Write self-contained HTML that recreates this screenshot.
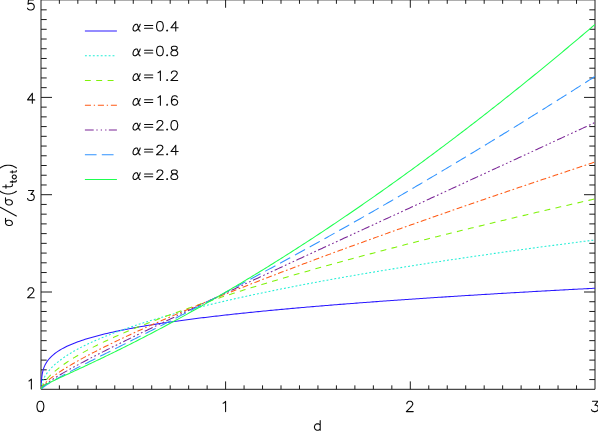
<!DOCTYPE html>
<html><head><meta charset="utf-8"><title>plot</title>
<style>html,body{margin:0;padding:0;background:#fff;font-family:"Liberation Sans",sans-serif}svg{display:block}.t{fill:none;stroke:#0a0a0a;stroke-width:1.1;stroke-linecap:round;stroke-linejoin:round}</style></head>
<body><svg width="598" height="432" viewBox="0 0 598 432"><rect width="598" height="432" fill="#fff"/><path d="M41.00,-0.15 H595.00 V389.30 H41.00 Z M59.37,389.30 v-3.95 M59.37,-0.15 v3.95 M77.84,389.30 v-3.95 M77.84,-0.15 v3.95 M96.31,389.30 v-3.95 M96.31,-0.15 v3.95 M114.78,389.30 v-3.95 M114.78,-0.15 v3.95 M133.25,389.30 v-3.95 M133.25,-0.15 v3.95 M151.72,389.30 v-3.95 M151.72,-0.15 v3.95 M170.19,389.30 v-3.95 M170.19,-0.15 v3.95 M188.66,389.30 v-3.95 M188.66,-0.15 v3.95 M207.13,389.30 v-3.95 M207.13,-0.15 v3.95 M225.60,389.30 v-7.9 M225.60,-0.15 v7.9 M244.07,389.30 v-3.95 M244.07,-0.15 v3.95 M262.54,389.30 v-3.95 M262.54,-0.15 v3.95 M281.01,389.30 v-3.95 M281.01,-0.15 v3.95 M299.48,389.30 v-3.95 M299.48,-0.15 v3.95 M317.95,389.30 v-3.95 M317.95,-0.15 v3.95 M336.42,389.30 v-3.95 M336.42,-0.15 v3.95 M354.89,389.30 v-3.95 M354.89,-0.15 v3.95 M373.36,389.30 v-3.95 M373.36,-0.15 v3.95 M391.83,389.30 v-3.95 M391.83,-0.15 v3.95 M410.30,389.30 v-7.9 M410.30,-0.15 v7.9 M428.77,389.30 v-3.95 M428.77,-0.15 v3.95 M447.24,389.30 v-3.95 M447.24,-0.15 v3.95 M465.71,389.30 v-3.95 M465.71,-0.15 v3.95 M484.18,389.30 v-3.95 M484.18,-0.15 v3.95 M502.65,389.30 v-3.95 M502.65,-0.15 v3.95 M521.12,389.30 v-3.95 M521.12,-0.15 v3.95 M539.59,389.30 v-3.95 M539.59,-0.15 v3.95 M558.06,389.30 v-3.95 M558.06,-0.15 v3.95 M576.53,389.30 v-3.95 M576.53,-0.15 v3.95 M41.00,379.57 h5.7 M595.00,379.57 h-5.7 M41.00,369.84 h5.7 M595.00,369.84 h-5.7 M41.00,360.11 h5.7 M595.00,360.11 h-5.7 M41.00,350.38 h5.7 M595.00,350.38 h-5.7 M41.00,340.65 h5.7 M595.00,340.65 h-5.7 M41.00,330.92 h5.7 M595.00,330.92 h-5.7 M41.00,321.19 h5.7 M595.00,321.19 h-5.7 M41.00,311.46 h5.7 M595.00,311.46 h-5.7 M41.00,301.73 h5.7 M595.00,301.73 h-5.7 M41.00,292.00 h11.0 M595.00,292.00 h-11.0 M41.00,282.27 h5.7 M595.00,282.27 h-5.7 M41.00,272.54 h5.7 M595.00,272.54 h-5.7 M41.00,262.81 h5.7 M595.00,262.81 h-5.7 M41.00,253.08 h5.7 M595.00,253.08 h-5.7 M41.00,243.35 h5.7 M595.00,243.35 h-5.7 M41.00,233.62 h5.7 M595.00,233.62 h-5.7 M41.00,223.89 h5.7 M595.00,223.89 h-5.7 M41.00,214.16 h5.7 M595.00,214.16 h-5.7 M41.00,204.43 h5.7 M595.00,204.43 h-5.7 M41.00,194.70 h11.0 M595.00,194.70 h-11.0 M41.00,184.97 h5.7 M595.00,184.97 h-5.7 M41.00,175.24 h5.7 M595.00,175.24 h-5.7 M41.00,165.51 h5.7 M595.00,165.51 h-5.7 M41.00,155.78 h5.7 M595.00,155.78 h-5.7 M41.00,146.05 h5.7 M595.00,146.05 h-5.7 M41.00,136.32 h5.7 M595.00,136.32 h-5.7 M41.00,126.59 h5.7 M595.00,126.59 h-5.7 M41.00,116.86 h5.7 M595.00,116.86 h-5.7 M41.00,107.13 h5.7 M595.00,107.13 h-5.7 M41.00,97.40 h11.0 M595.00,97.40 h-11.0 M41.00,87.67 h5.7 M595.00,87.67 h-5.7 M41.00,77.94 h5.7 M595.00,77.94 h-5.7 M41.00,68.21 h5.7 M595.00,68.21 h-5.7 M41.00,58.48 h5.7 M595.00,58.48 h-5.7 M41.00,48.75 h5.7 M595.00,48.75 h-5.7 M41.00,39.02 h5.7 M595.00,39.02 h-5.7 M41.00,29.29 h5.7 M595.00,29.29 h-5.7 M41.00,19.56 h5.7 M595.00,19.56 h-5.7 M41.00,9.83 h5.7 M595.00,9.83 h-5.7" fill="none" stroke="#1c1c1c" stroke-width="1.0" stroke-linecap="butt"/><clipPath id="c"><rect x="41.00" y="0" width="554.00" height="389.30"/></clipPath><g clip-path="url(#c)" fill="none" stroke-linejoin="round"><path d="M41.10,389.40 L41.32,385.87 L41.32,385.73 L41.32,385.58 L41.33,385.42 L41.33,385.26 L41.33,385.10 L41.33,384.92 L41.34,384.74 L41.34,384.55 L41.35,384.36 L41.35,384.16 L41.36,383.94 L41.37,383.72 L41.37,383.50 L41.38,383.26 L41.39,383.01 L41.40,382.75 L41.41,382.49 L41.42,382.21 L41.44,381.92 L41.45,381.62 L41.47,381.30 L41.49,380.98 L41.51,380.64 L41.53,380.29 L41.56,379.92 L41.59,379.54 L41.62,379.14 L41.65,378.73 L41.69,378.30 L41.74,377.86 L41.78,377.39 L41.84,376.91 L41.90,376.41 L41.96,375.89 L42.04,375.35 L42.12,374.79 L42.21,374.22 L42.31,373.64 L42.42,373.04 L42.55,372.42 L42.69,371.79 L42.84,371.15 L43.01,370.48 L43.20,369.80 L43.41,369.11 L43.65,368.39 L43.91,367.66 L44.20,366.92 L44.52,366.15 L44.88,365.36 L45.27,364.56 L45.72,363.73 L46.21,362.89 L46.75,362.02 L47.36,361.13 L48.03,360.22 L48.78,359.28 L49.61,358.32 L50.53,357.33 L52.35,355.58 L54.17,354.04 L55.99,352.66 L57.82,351.39 L59.64,350.24 L61.46,349.16 L63.28,348.16 L65.10,347.22 L66.92,346.33 L68.74,345.48 L70.56,344.68 L72.39,343.92 L74.21,343.19 L76.03,342.49 L77.85,341.81 L79.67,341.16 L81.49,340.53 L83.31,339.93 L85.13,339.34 L86.96,338.77 L88.78,338.22 L90.60,337.68 L92.42,337.16 L94.24,336.65 L96.06,336.16 L97.88,335.68 L99.71,335.20 L101.53,334.74 L103.35,334.29 L105.17,333.85 L106.99,333.42 L108.81,332.99 L110.63,332.58 L112.45,332.17 L114.28,331.77 L116.10,331.38 L117.92,330.99 L119.74,330.62 L121.56,330.24 L123.38,329.88 L125.20,329.52 L127.02,329.16 L128.85,328.81 L130.67,328.47 L132.49,328.13 L134.31,327.80 L136.13,327.47 L137.95,327.14 L139.77,326.82 L141.60,326.51 L143.42,326.19 L145.24,325.89 L147.06,325.58 L148.88,325.28 L150.70,324.99 L152.52,324.69 L154.34,324.40 L156.17,324.12 L157.99,323.84 L159.81,323.56 L161.63,323.28 L163.45,323.01 L165.27,322.73 L167.09,322.47 L168.91,322.20 L170.74,321.94 L172.56,321.68 L174.38,321.42 L176.20,321.17 L178.02,320.92 L179.84,320.67 L181.66,320.42 L183.49,320.17 L185.31,319.93 L187.13,319.69 L188.95,319.45 L190.77,319.22 L192.59,318.98 L194.41,318.75 L196.23,318.52 L198.06,318.29 L199.88,318.06 L201.70,317.84 L203.52,317.62 L205.34,317.40 L207.16,317.18 L208.98,316.96 L210.80,316.74 L212.63,316.53 L214.45,316.32 L216.27,316.11 L218.09,315.90 L219.91,315.69 L221.73,315.48 L223.55,315.28 L225.38,315.07 L227.20,314.87 L229.02,314.67 L230.84,314.47 L232.66,314.27 L234.48,314.08 L236.30,313.88 L238.12,313.69 L239.95,313.49 L241.77,313.30 L243.59,313.11 L245.41,312.92 L247.23,312.74 L249.05,312.55 L250.87,312.36 L252.69,312.18 L254.52,311.99 L256.34,311.81 L258.16,311.63 L259.98,311.45 L261.80,311.27 L263.62,311.09 L265.44,310.92 L267.27,310.74 L269.09,310.57 L270.91,310.39 L272.73,310.22 L274.55,310.05 L276.37,309.88 L278.19,309.71 L280.01,309.54 L281.84,309.37 L283.66,309.20 L285.48,309.03 L287.30,308.87 L289.12,308.70 L290.94,308.54 L292.76,308.38 L294.58,308.21 L296.41,308.05 L298.23,307.89 L300.05,307.73 L301.87,307.57 L303.69,307.41 L305.51,307.26 L307.33,307.10 L309.16,306.94 L310.98,306.79 L312.80,306.63 L314.62,306.48 L316.44,306.33 L318.26,306.17 L320.08,306.02 L321.90,305.87 L323.73,305.72 L325.55,305.57 L327.37,305.42 L329.19,305.27 L331.01,305.12 L332.83,304.98 L334.65,304.83 L336.47,304.68 L338.30,304.54 L340.12,304.39 L341.94,304.25 L343.76,304.11 L345.58,303.96 L347.40,303.82 L349.22,303.68 L351.05,303.54 L352.87,303.40 L354.69,303.26 L356.51,303.12 L358.33,302.98 L360.15,302.84 L361.97,302.70 L363.79,302.57 L365.62,302.43 L367.44,302.29 L369.26,302.16 L371.08,302.02 L372.90,301.89 L374.72,301.75 L376.54,301.62 L378.36,301.49 L380.19,301.35 L382.01,301.22 L383.83,301.09 L385.65,300.96 L387.47,300.83 L389.29,300.70 L391.11,300.57 L392.94,300.44 L394.76,300.31 L396.58,300.18 L398.40,300.05 L400.22,299.93 L402.04,299.80 L403.86,299.67 L405.68,299.55 L407.51,299.42 L409.33,299.29 L411.15,299.17 L412.97,299.04 L414.79,298.92 L416.61,298.80 L418.43,298.67 L420.25,298.55 L422.08,298.43 L423.90,298.31 L425.72,298.18 L427.54,298.06 L429.36,297.94 L431.18,297.82 L433.00,297.70 L434.83,297.58 L436.65,297.46 L438.47,297.34 L440.29,297.22 L442.11,297.11 L443.93,296.99 L445.75,296.87 L447.57,296.75 L449.40,296.64 L451.22,296.52 L453.04,296.40 L454.86,296.29 L456.68,296.17 L458.50,296.06 L460.32,295.94 L462.14,295.83 L463.97,295.71 L465.79,295.60 L467.61,295.49 L469.43,295.37 L471.25,295.26 L473.07,295.15 L474.89,295.03 L476.72,294.92 L478.54,294.81 L480.36,294.70 L482.18,294.59 L484.00,294.48 L485.82,294.37 L487.64,294.26 L489.46,294.15 L491.29,294.04 L493.11,293.93 L494.93,293.82 L496.75,293.71 L498.57,293.60 L500.39,293.50 L502.21,293.39 L504.03,293.28 L505.86,293.17 L507.68,293.07 L509.50,292.96 L511.32,292.85 L513.14,292.75 L514.96,292.64 L516.78,292.54 L518.61,292.43 L520.43,292.33 L522.25,292.22 L524.07,292.12 L525.89,292.01 L527.71,291.91 L529.53,291.81 L531.35,291.70 L533.18,291.60 L535.00,291.50 L536.82,291.39 L538.64,291.29 L540.46,291.19 L542.28,291.09 L544.10,290.99 L545.92,290.88 L547.75,290.78 L549.57,290.68 L551.39,290.58 L553.21,290.48 L555.03,290.38 L556.85,290.28 L558.67,290.18 L560.50,290.08 L562.32,289.98 L564.14,289.88 L565.96,289.78 L567.78,289.69 L569.60,289.59 L571.42,289.49 L573.24,289.39 L575.07,289.29 L576.89,289.20 L578.71,289.10 L580.53,289.00 L582.35,288.91 L584.17,288.81 L585.99,288.71 L587.81,288.62 L589.64,288.52 L591.46,288.42 L593.28,288.33 L595.10,288.23" stroke="#2a18ff" stroke-width="1.05"/><path d="M41.10,389.40 L41.32,388.21 L41.32,388.15 L41.32,388.09 L41.33,388.03 L41.33,387.96 L41.33,387.89 L41.33,387.82 L41.34,387.74 L41.34,387.66 L41.35,387.57 L41.35,387.48 L41.36,387.39 L41.37,387.29 L41.37,387.18 L41.38,387.08 L41.39,386.96 L41.40,386.84 L41.41,386.72 L41.42,386.58 L41.44,386.45 L41.45,386.30 L41.47,386.15 L41.49,385.99 L41.51,385.83 L41.53,385.65 L41.56,385.47 L41.59,385.28 L41.62,385.07 L41.65,384.86 L41.69,384.64 L41.74,384.41 L41.78,384.17 L41.84,383.91 L41.90,383.65 L41.96,383.37 L42.04,383.07 L42.12,382.76 L42.21,382.44 L42.31,382.10 L42.42,381.74 L42.55,381.36 L42.69,380.97 L42.84,380.55 L43.01,380.11 L43.20,379.65 L43.41,379.16 L43.65,378.65 L43.91,378.11 L44.20,377.54 L44.52,376.94 L44.88,376.31 L45.27,375.64 L45.72,374.94 L46.21,374.20 L46.75,373.41 L47.36,372.59 L48.03,371.71 L48.78,370.79 L49.61,369.82 L50.53,368.80 L52.35,366.91 L54.17,365.18 L55.99,363.56 L57.82,362.04 L59.64,360.60 L61.46,359.24 L63.28,357.93 L65.10,356.68 L66.92,355.48 L68.74,354.32 L70.56,353.20 L72.39,352.11 L74.21,351.06 L76.03,350.04 L77.85,349.04 L79.67,348.07 L81.49,347.12 L83.31,346.20 L85.13,345.29 L86.96,344.41 L88.78,343.54 L90.60,342.69 L92.42,341.86 L94.24,341.04 L96.06,340.24 L97.88,339.45 L99.71,338.67 L101.53,337.90 L103.35,337.15 L105.17,336.41 L106.99,335.68 L108.81,334.96 L110.63,334.25 L112.45,333.55 L114.28,332.86 L116.10,332.18 L117.92,331.50 L119.74,330.84 L121.56,330.18 L123.38,329.53 L125.20,328.89 L127.02,328.26 L128.85,327.63 L130.67,327.01 L132.49,326.40 L134.31,325.79 L136.13,325.19 L137.95,324.59 L139.77,324.00 L141.60,323.42 L143.42,322.84 L145.24,322.27 L147.06,321.70 L148.88,321.14 L150.70,320.58 L152.52,320.03 L154.34,319.48 L156.17,318.94 L157.99,318.40 L159.81,317.87 L161.63,317.34 L163.45,316.81 L165.27,316.29 L167.09,315.77 L168.91,315.26 L170.74,314.75 L172.56,314.25 L174.38,313.74 L176.20,313.25 L178.02,312.75 L179.84,312.26 L181.66,311.77 L183.49,311.29 L185.31,310.81 L187.13,310.33 L188.95,309.85 L190.77,309.38 L192.59,308.91 L194.41,308.45 L196.23,307.98 L198.06,307.53 L199.88,307.07 L201.70,306.61 L203.52,306.16 L205.34,305.71 L207.16,305.27 L208.98,304.82 L210.80,304.38 L212.63,303.95 L214.45,303.51 L216.27,303.08 L218.09,302.64 L219.91,302.22 L221.73,301.79 L223.55,301.37 L225.38,300.94 L227.20,300.52 L229.02,300.11 L230.84,299.69 L232.66,299.28 L234.48,298.87 L236.30,298.46 L238.12,298.05 L239.95,297.65 L241.77,297.24 L243.59,296.84 L245.41,296.44 L247.23,296.05 L249.05,295.65 L250.87,295.26 L252.69,294.87 L254.52,294.48 L256.34,294.09 L258.16,293.70 L259.98,293.32 L261.80,292.94 L263.62,292.56 L265.44,292.18 L267.27,291.80 L269.09,291.42 L270.91,291.05 L272.73,290.68 L274.55,290.30 L276.37,289.93 L278.19,289.57 L280.01,289.20 L281.84,288.83 L283.66,288.47 L285.48,288.11 L287.30,287.75 L289.12,287.39 L290.94,287.03 L292.76,286.67 L294.58,286.32 L296.41,285.97 L298.23,285.61 L300.05,285.26 L301.87,284.91 L303.69,284.56 L305.51,284.22 L307.33,283.87 L309.16,283.53 L310.98,283.18 L312.80,282.84 L314.62,282.50 L316.44,282.16 L318.26,281.82 L320.08,281.48 L321.90,281.15 L323.73,280.81 L325.55,280.48 L327.37,280.15 L329.19,279.82 L331.01,279.49 L332.83,279.16 L334.65,278.83 L336.47,278.50 L338.30,278.18 L340.12,277.85 L341.94,277.53 L343.76,277.21 L345.58,276.88 L347.40,276.56 L349.22,276.24 L351.05,275.93 L352.87,275.61 L354.69,275.29 L356.51,274.98 L358.33,274.66 L360.15,274.35 L361.97,274.04 L363.79,273.72 L365.62,273.41 L367.44,273.10 L369.26,272.79 L371.08,272.49 L372.90,272.18 L374.72,271.87 L376.54,271.57 L378.36,271.26 L380.19,270.96 L382.01,270.66 L383.83,270.36 L385.65,270.06 L387.47,269.76 L389.29,269.46 L391.11,269.16 L392.94,268.86 L394.76,268.57 L396.58,268.27 L398.40,267.98 L400.22,267.68 L402.04,267.39 L403.86,267.10 L405.68,266.80 L407.51,266.51 L409.33,266.22 L411.15,265.93 L412.97,265.65 L414.79,265.36 L416.61,265.07 L418.43,264.78 L420.25,264.50 L422.08,264.21 L423.90,263.93 L425.72,263.65 L427.54,263.36 L429.36,263.08 L431.18,262.80 L433.00,262.52 L434.83,262.24 L436.65,261.96 L438.47,261.68 L440.29,261.41 L442.11,261.13 L443.93,260.85 L445.75,260.58 L447.57,260.30 L449.40,260.03 L451.22,259.76 L453.04,259.48 L454.86,259.21 L456.68,258.94 L458.50,258.67 L460.32,258.40 L462.14,258.13 L463.97,257.86 L465.79,257.59 L467.61,257.32 L469.43,257.06 L471.25,256.79 L473.07,256.52 L474.89,256.26 L476.72,255.99 L478.54,255.73 L480.36,255.47 L482.18,255.20 L484.00,254.94 L485.82,254.68 L487.64,254.42 L489.46,254.16 L491.29,253.90 L493.11,253.64 L494.93,253.38 L496.75,253.12 L498.57,252.86 L500.39,252.60 L502.21,252.35 L504.03,252.09 L505.86,251.84 L507.68,251.58 L509.50,251.33 L511.32,251.07 L513.14,250.82 L514.96,250.57 L516.78,250.31 L518.61,250.06 L520.43,249.81 L522.25,249.56 L524.07,249.31 L525.89,249.06 L527.71,248.81 L529.53,248.56 L531.35,248.31 L533.18,248.07 L535.00,247.82 L536.82,247.57 L538.64,247.33 L540.46,247.08 L542.28,246.84 L544.10,246.59 L545.92,246.35 L547.75,246.10 L549.57,245.86 L551.39,245.62 L553.21,245.37 L555.03,245.13 L556.85,244.89 L558.67,244.65 L560.50,244.41 L562.32,244.17 L564.14,243.93 L565.96,243.69 L567.78,243.45 L569.60,243.21 L571.42,242.98 L573.24,242.74 L575.07,242.50 L576.89,242.27 L578.71,242.03 L580.53,241.79 L582.35,241.56 L584.17,241.32 L585.99,241.09 L587.81,240.86 L589.64,240.62 L591.46,240.39 L593.28,240.16 L595.10,239.92" stroke="#22eed6" stroke-width="1.05" stroke-dasharray="1.907 2.033" stroke-dashoffset="-0.65"/><path d="M41.10,389.40 L41.32,389.18 L41.32,389.16 L41.32,389.14 L41.33,389.12 L41.33,389.10 L41.33,389.08 L41.33,389.06 L41.34,389.03 L41.34,389.01 L41.35,388.98 L41.35,388.95 L41.36,388.91 L41.37,388.88 L41.37,388.84 L41.38,388.80 L41.39,388.75 L41.40,388.70 L41.41,388.65 L41.42,388.60 L41.44,388.54 L41.45,388.48 L41.47,388.41 L41.49,388.34 L41.51,388.26 L41.53,388.18 L41.56,388.09 L41.59,387.99 L41.62,387.89 L41.65,387.77 L41.69,387.66 L41.74,387.53 L41.78,387.39 L41.84,387.24 L41.90,387.09 L41.96,386.92 L42.04,386.73 L42.12,386.54 L42.21,386.33 L42.31,386.10 L42.42,385.86 L42.55,385.60 L42.69,385.32 L42.84,385.02 L43.01,384.70 L43.20,384.36 L43.41,383.99 L43.65,383.59 L43.91,383.17 L44.20,382.72 L44.52,382.24 L44.88,381.73 L45.27,381.18 L45.72,380.60 L46.21,379.97 L46.75,379.31 L47.36,378.59 L48.03,377.83 L48.78,377.01 L49.61,376.14 L50.53,375.21 L52.35,373.47 L54.17,371.84 L55.99,370.29 L57.82,368.81 L59.64,367.40 L61.46,366.04 L63.28,364.73 L65.10,363.46 L66.92,362.23 L68.74,361.03 L70.56,359.86 L72.39,358.72 L74.21,357.61 L76.03,356.51 L77.85,355.45 L79.67,354.40 L81.49,353.37 L83.31,352.35 L85.13,351.36 L86.96,350.38 L88.78,349.41 L90.60,348.46 L92.42,347.53 L94.24,346.60 L96.06,345.69 L97.88,344.78 L99.71,343.89 L101.53,343.01 L103.35,342.14 L105.17,341.28 L106.99,340.43 L108.81,339.59 L110.63,338.75 L112.45,337.92 L114.28,337.10 L116.10,336.29 L117.92,335.49 L119.74,334.69 L121.56,333.90 L123.38,333.12 L125.20,332.34 L127.02,331.57 L128.85,330.80 L130.67,330.04 L132.49,329.29 L134.31,328.54 L136.13,327.80 L137.95,327.06 L139.77,326.33 L141.60,325.60 L143.42,324.87 L145.24,324.15 L147.06,323.44 L148.88,322.73 L150.70,322.03 L152.52,321.32 L154.34,320.63 L156.17,319.93 L157.99,319.24 L159.81,318.56 L161.63,317.88 L163.45,317.20 L165.27,316.52 L167.09,315.85 L168.91,315.19 L170.74,314.52 L172.56,313.86 L174.38,313.20 L176.20,312.55 L178.02,311.90 L179.84,311.25 L181.66,310.60 L183.49,309.96 L185.31,309.32 L187.13,308.68 L188.95,308.05 L190.77,307.42 L192.59,306.79 L194.41,306.16 L196.23,305.54 L198.06,304.92 L199.88,304.30 L201.70,303.68 L203.52,303.07 L205.34,302.46 L207.16,301.85 L208.98,301.24 L210.80,300.64 L212.63,300.04 L214.45,299.44 L216.27,298.84 L218.09,298.24 L219.91,297.65 L221.73,297.06 L223.55,296.47 L225.38,295.88 L227.20,295.30 L229.02,294.71 L230.84,294.13 L232.66,293.55 L234.48,292.97 L236.30,292.40 L238.12,291.82 L239.95,291.25 L241.77,290.68 L243.59,290.11 L245.41,289.55 L247.23,288.98 L249.05,288.42 L250.87,287.85 L252.69,287.29 L254.52,286.74 L256.34,286.18 L258.16,285.62 L259.98,285.07 L261.80,284.52 L263.62,283.96 L265.44,283.41 L267.27,282.87 L269.09,282.32 L270.91,281.77 L272.73,281.23 L274.55,280.69 L276.37,280.15 L278.19,279.61 L280.01,279.07 L281.84,278.53 L283.66,278.00 L285.48,277.46 L287.30,276.93 L289.12,276.40 L290.94,275.87 L292.76,275.34 L294.58,274.81 L296.41,274.28 L298.23,273.76 L300.05,273.24 L301.87,272.71 L303.69,272.19 L305.51,271.67 L307.33,271.15 L309.16,270.63 L310.98,270.12 L312.80,269.60 L314.62,269.08 L316.44,268.57 L318.26,268.06 L320.08,267.55 L321.90,267.04 L323.73,266.53 L325.55,266.02 L327.37,265.51 L329.19,265.00 L331.01,264.50 L332.83,263.99 L334.65,263.49 L336.47,262.99 L338.30,262.49 L340.12,261.99 L341.94,261.49 L343.76,260.99 L345.58,260.49 L347.40,260.00 L349.22,259.50 L351.05,259.01 L352.87,258.51 L354.69,258.02 L356.51,257.53 L358.33,257.04 L360.15,256.55 L361.97,256.06 L363.79,255.57 L365.62,255.08 L367.44,254.60 L369.26,254.11 L371.08,253.62 L372.90,253.14 L374.72,252.66 L376.54,252.18 L378.36,251.69 L380.19,251.21 L382.01,250.73 L383.83,250.25 L385.65,249.78 L387.47,249.30 L389.29,248.82 L391.11,248.35 L392.94,247.87 L394.76,247.40 L396.58,246.92 L398.40,246.45 L400.22,245.98 L402.04,245.51 L403.86,245.03 L405.68,244.56 L407.51,244.10 L409.33,243.63 L411.15,243.16 L412.97,242.69 L414.79,242.23 L416.61,241.76 L418.43,241.29 L420.25,240.83 L422.08,240.37 L423.90,239.90 L425.72,239.44 L427.54,238.98 L429.36,238.52 L431.18,238.06 L433.00,237.60 L434.83,237.14 L436.65,236.68 L438.47,236.22 L440.29,235.77 L442.11,235.31 L443.93,234.86 L445.75,234.40 L447.57,233.95 L449.40,233.49 L451.22,233.04 L453.04,232.59 L454.86,232.13 L456.68,231.68 L458.50,231.23 L460.32,230.78 L462.14,230.33 L463.97,229.88 L465.79,229.43 L467.61,228.99 L469.43,228.54 L471.25,228.09 L473.07,227.65 L474.89,227.20 L476.72,226.75 L478.54,226.31 L480.36,225.87 L482.18,225.42 L484.00,224.98 L485.82,224.54 L487.64,224.10 L489.46,223.65 L491.29,223.21 L493.11,222.77 L494.93,222.33 L496.75,221.89 L498.57,221.46 L500.39,221.02 L502.21,220.58 L504.03,220.14 L505.86,219.71 L507.68,219.27 L509.50,218.83 L511.32,218.40 L513.14,217.97 L514.96,217.53 L516.78,217.10 L518.61,216.66 L520.43,216.23 L522.25,215.80 L524.07,215.37 L525.89,214.94 L527.71,214.51 L529.53,214.08 L531.35,213.65 L533.18,213.22 L535.00,212.79 L536.82,212.36 L538.64,211.93 L540.46,211.50 L542.28,211.08 L544.10,210.65 L545.92,210.23 L547.75,209.80 L549.57,209.37 L551.39,208.95 L553.21,208.53 L555.03,208.10 L556.85,207.68 L558.67,207.26 L560.50,206.83 L562.32,206.41 L564.14,205.99 L565.96,205.57 L567.78,205.15 L569.60,204.73 L571.42,204.31 L573.24,203.89 L575.07,203.47 L576.89,203.05 L578.71,202.63 L580.53,202.21 L582.35,201.80 L584.17,201.38 L585.99,200.96 L587.81,200.55 L589.64,200.13 L591.46,199.71 L593.28,199.30 L595.10,198.88" stroke="#7ff20a" stroke-width="1.05" stroke-dasharray="5.929 5.329" stroke-dashoffset="-0.45999999999999996"/><path d="M41.10,389.40 L41.32,389.15 L41.32,389.14 L41.32,389.12 L41.33,389.10 L41.33,389.08 L41.33,389.06 L41.33,389.04 L41.34,389.02 L41.34,388.99 L41.35,388.96 L41.35,388.93 L41.36,388.90 L41.37,388.87 L41.37,388.84 L41.38,388.80 L41.39,388.76 L41.40,388.72 L41.41,388.67 L41.42,388.62 L41.44,388.57 L41.45,388.52 L41.47,388.46 L41.49,388.40 L41.51,388.33 L41.53,388.26 L41.56,388.19 L41.59,388.11 L41.62,388.02 L41.65,387.93 L41.69,387.83 L41.74,387.73 L41.78,387.62 L41.84,387.51 L41.90,387.38 L41.96,387.25 L42.04,387.11 L42.12,386.96 L42.21,386.80 L42.31,386.63 L42.42,386.45 L42.55,386.25 L42.69,386.05 L42.84,385.82 L43.01,385.59 L43.20,385.34 L43.41,385.07 L43.65,384.78 L43.91,384.47 L44.20,384.15 L44.52,383.80 L44.88,383.42 L45.27,383.02 L45.72,382.59 L46.21,382.13 L46.75,381.63 L47.36,381.09 L48.03,380.51 L48.78,379.88 L49.61,379.20 L50.53,378.46 L52.35,377.06 L54.17,375.71 L55.99,374.41 L57.82,373.15 L59.64,371.93 L61.46,370.73 L63.28,369.56 L65.10,368.42 L66.92,367.29 L68.74,366.19 L70.56,365.10 L72.39,364.03 L74.21,362.98 L76.03,361.94 L77.85,360.91 L79.67,359.89 L81.49,358.88 L83.31,357.89 L85.13,356.90 L86.96,355.93 L88.78,354.96 L90.60,354.00 L92.42,353.05 L94.24,352.10 L96.06,351.17 L97.88,350.24 L99.71,349.32 L101.53,348.40 L103.35,347.49 L105.17,346.58 L106.99,345.68 L108.81,344.79 L110.63,343.90 L112.45,343.02 L114.28,342.14 L116.10,341.27 L117.92,340.40 L119.74,339.53 L121.56,338.67 L123.38,337.81 L125.20,336.96 L127.02,336.11 L128.85,335.27 L130.67,334.42 L132.49,333.59 L134.31,332.75 L136.13,331.92 L137.95,331.09 L139.77,330.27 L141.60,329.45 L143.42,328.63 L145.24,327.81 L147.06,327.00 L148.88,326.19 L150.70,325.38 L152.52,324.58 L154.34,323.78 L156.17,322.98 L157.99,322.18 L159.81,321.39 L161.63,320.59 L163.45,319.80 L165.27,319.02 L167.09,318.23 L168.91,317.45 L170.74,316.67 L172.56,315.89 L174.38,315.12 L176.20,314.34 L178.02,313.57 L179.84,312.80 L181.66,312.03 L183.49,311.27 L185.31,310.50 L187.13,309.74 L188.95,308.98 L190.77,308.22 L192.59,307.46 L194.41,306.71 L196.23,305.96 L198.06,305.20 L199.88,304.45 L201.70,303.71 L203.52,302.96 L205.34,302.21 L207.16,301.47 L208.98,300.73 L210.80,299.99 L212.63,299.25 L214.45,298.51 L216.27,297.78 L218.09,297.04 L219.91,296.31 L221.73,295.58 L223.55,294.85 L225.38,294.12 L227.20,293.39 L229.02,292.66 L230.84,291.94 L232.66,291.21 L234.48,290.49 L236.30,289.77 L238.12,289.05 L239.95,288.33 L241.77,287.62 L243.59,286.90 L245.41,286.18 L247.23,285.47 L249.05,284.76 L250.87,284.05 L252.69,283.33 L254.52,282.63 L256.34,281.92 L258.16,281.21 L259.98,280.50 L261.80,279.80 L263.62,279.10 L265.44,278.39 L267.27,277.69 L269.09,276.99 L270.91,276.29 L272.73,275.59 L274.55,274.89 L276.37,274.20 L278.19,273.50 L280.01,272.81 L281.84,272.11 L283.66,271.42 L285.48,270.73 L287.30,270.03 L289.12,269.34 L290.94,268.65 L292.76,267.97 L294.58,267.28 L296.41,266.59 L298.23,265.91 L300.05,265.22 L301.87,264.54 L303.69,263.85 L305.51,263.17 L307.33,262.49 L309.16,261.81 L310.98,261.13 L312.80,260.45 L314.62,259.77 L316.44,259.09 L318.26,258.42 L320.08,257.74 L321.90,257.06 L323.73,256.39 L325.55,255.72 L327.37,255.04 L329.19,254.37 L331.01,253.70 L332.83,253.03 L334.65,252.36 L336.47,251.69 L338.30,251.02 L340.12,250.35 L341.94,249.68 L343.76,249.02 L345.58,248.35 L347.40,247.69 L349.22,247.02 L351.05,246.36 L352.87,245.70 L354.69,245.03 L356.51,244.37 L358.33,243.71 L360.15,243.05 L361.97,242.39 L363.79,241.73 L365.62,241.07 L367.44,240.41 L369.26,239.76 L371.08,239.10 L372.90,238.44 L374.72,237.79 L376.54,237.13 L378.36,236.48 L380.19,235.82 L382.01,235.17 L383.83,234.52 L385.65,233.87 L387.47,233.21 L389.29,232.56 L391.11,231.91 L392.94,231.26 L394.76,230.61 L396.58,229.97 L398.40,229.32 L400.22,228.67 L402.04,228.02 L403.86,227.38 L405.68,226.73 L407.51,226.09 L409.33,225.44 L411.15,224.80 L412.97,224.15 L414.79,223.51 L416.61,222.87 L418.43,222.23 L420.25,221.58 L422.08,220.94 L423.90,220.30 L425.72,219.66 L427.54,219.02 L429.36,218.38 L431.18,217.74 L433.00,217.11 L434.83,216.47 L436.65,215.83 L438.47,215.19 L440.29,214.56 L442.11,213.92 L443.93,213.29 L445.75,212.65 L447.57,212.02 L449.40,211.38 L451.22,210.75 L453.04,210.12 L454.86,209.48 L456.68,208.85 L458.50,208.22 L460.32,207.59 L462.14,206.96 L463.97,206.33 L465.79,205.70 L467.61,205.07 L469.43,204.44 L471.25,203.81 L473.07,203.18 L474.89,202.56 L476.72,201.93 L478.54,201.30 L480.36,200.68 L482.18,200.05 L484.00,199.42 L485.82,198.80 L487.64,198.17 L489.46,197.55 L491.29,196.93 L493.11,196.30 L494.93,195.68 L496.75,195.06 L498.57,194.43 L500.39,193.81 L502.21,193.19 L504.03,192.57 L505.86,191.95 L507.68,191.33 L509.50,190.71 L511.32,190.09 L513.14,189.47 L514.96,188.85 L516.78,188.23 L518.61,187.61 L520.43,187.00 L522.25,186.38 L524.07,185.76 L525.89,185.14 L527.71,184.53 L529.53,183.91 L531.35,183.30 L533.18,182.68 L535.00,182.07 L536.82,181.45 L538.64,180.84 L540.46,180.22 L542.28,179.61 L544.10,179.00 L545.92,178.39 L547.75,177.77 L549.57,177.16 L551.39,176.55 L553.21,175.94 L555.03,175.33 L556.85,174.72 L558.67,174.11 L560.50,173.50 L562.32,172.89 L564.14,172.28 L565.96,171.67 L567.78,171.06 L569.60,170.45 L571.42,169.84 L573.24,169.24 L575.07,168.63 L576.89,168.02 L578.71,167.42 L580.53,166.81 L582.35,166.20 L584.17,165.60 L585.99,164.99 L587.81,164.39 L589.64,163.78 L591.46,163.18 L593.28,162.57 L595.10,161.97" stroke="#ff5a14" stroke-width="1.05" stroke-dasharray="5.929 2.514 1.707 2.514" stroke-dashoffset="0.15"/><path d="M41.10,389.40 L41.32,389.23 L41.32,389.22 L41.32,389.21 L41.33,389.19 L41.33,389.18 L41.33,389.16 L41.33,389.15 L41.34,389.13 L41.34,389.11 L41.35,389.09 L41.35,389.07 L41.36,389.05 L41.37,389.02 L41.37,389.00 L41.38,388.97 L41.39,388.94 L41.40,388.91 L41.41,388.88 L41.42,388.84 L41.44,388.80 L41.45,388.76 L41.47,388.72 L41.49,388.67 L41.51,388.62 L41.53,388.57 L41.56,388.52 L41.59,388.46 L41.62,388.39 L41.65,388.32 L41.69,388.25 L41.74,388.17 L41.78,388.09 L41.84,388.00 L41.90,387.91 L41.96,387.80 L42.04,387.70 L42.12,387.58 L42.21,387.46 L42.31,387.33 L42.42,387.19 L42.55,387.04 L42.69,386.88 L42.84,386.70 L43.01,386.52 L43.20,386.32 L43.41,386.11 L43.65,385.89 L43.91,385.65 L44.20,385.39 L44.52,385.11 L44.88,384.81 L45.27,384.49 L45.72,384.14 L46.21,383.77 L46.75,383.37 L47.36,382.93 L48.03,382.45 L48.78,381.93 L49.61,381.36 L50.53,380.74 L52.35,379.55 L54.17,378.38 L55.99,377.25 L57.82,376.14 L59.64,375.05 L61.46,373.97 L63.28,372.91 L65.10,371.87 L66.92,370.84 L68.74,369.82 L70.56,368.80 L72.39,367.80 L74.21,366.81 L76.03,365.82 L77.85,364.84 L79.67,363.87 L81.49,362.90 L83.31,361.94 L85.13,360.98 L86.96,360.03 L88.78,359.08 L90.60,358.14 L92.42,357.20 L94.24,356.26 L96.06,355.33 L97.88,354.40 L99.71,353.48 L101.53,352.55 L103.35,351.63 L105.17,350.72 L106.99,349.80 L108.81,348.89 L110.63,347.98 L112.45,347.07 L114.28,346.17 L116.10,345.26 L117.92,344.36 L119.74,343.46 L121.56,342.57 L123.38,341.67 L125.20,340.78 L127.02,339.89 L128.85,339.00 L130.67,338.11 L132.49,337.22 L134.31,336.33 L136.13,335.45 L137.95,334.56 L139.77,333.68 L141.60,332.80 L143.42,331.92 L145.24,331.04 L147.06,330.17 L148.88,329.29 L150.70,328.41 L152.52,327.54 L154.34,326.67 L156.17,325.79 L157.99,324.92 L159.81,324.05 L161.63,323.18 L163.45,322.31 L165.27,321.45 L167.09,320.58 L168.91,319.71 L170.74,318.85 L172.56,317.98 L174.38,317.12 L176.20,316.25 L178.02,315.39 L179.84,314.53 L181.66,313.67 L183.49,312.81 L185.31,311.95 L187.13,311.09 L188.95,310.23 L190.77,309.37 L192.59,308.51 L194.41,307.65 L196.23,306.80 L198.06,305.94 L199.88,305.09 L201.70,304.23 L203.52,303.38 L205.34,302.52 L207.16,301.67 L208.98,300.81 L210.80,299.96 L212.63,299.11 L214.45,298.25 L216.27,297.40 L218.09,296.55 L219.91,295.70 L221.73,294.85 L223.55,294.00 L225.38,293.15 L227.20,292.30 L229.02,291.45 L230.84,290.60 L232.66,289.75 L234.48,288.90 L236.30,288.05 L238.12,287.21 L239.95,286.36 L241.77,285.51 L243.59,284.66 L245.41,283.82 L247.23,282.97 L249.05,282.12 L250.87,281.28 L252.69,280.43 L254.52,279.59 L256.34,278.74 L258.16,277.90 L259.98,277.05 L261.80,276.21 L263.62,275.36 L265.44,274.52 L267.27,273.67 L269.09,272.83 L270.91,271.98 L272.73,271.14 L274.55,270.30 L276.37,269.45 L278.19,268.61 L280.01,267.77 L281.84,266.93 L283.66,266.08 L285.48,265.24 L287.30,264.40 L289.12,263.56 L290.94,262.71 L292.76,261.87 L294.58,261.03 L296.41,260.19 L298.23,259.35 L300.05,258.51 L301.87,257.67 L303.69,256.82 L305.51,255.98 L307.33,255.14 L309.16,254.30 L310.98,253.46 L312.80,252.62 L314.62,251.78 L316.44,250.94 L318.26,250.10 L320.08,249.26 L321.90,248.42 L323.73,247.58 L325.55,246.74 L327.37,245.90 L329.19,245.06 L331.01,244.22 L332.83,243.38 L334.65,242.54 L336.47,241.70 L338.30,240.86 L340.12,240.02 L341.94,239.18 L343.76,238.34 L345.58,237.50 L347.40,236.66 L349.22,235.83 L351.05,234.99 L352.87,234.15 L354.69,233.31 L356.51,232.47 L358.33,231.63 L360.15,230.79 L361.97,229.95 L363.79,229.11 L365.62,228.27 L367.44,227.44 L369.26,226.60 L371.08,225.76 L372.90,224.92 L374.72,224.08 L376.54,223.24 L378.36,222.40 L380.19,221.57 L382.01,220.73 L383.83,219.89 L385.65,219.05 L387.47,218.21 L389.29,217.37 L391.11,216.54 L392.94,215.70 L394.76,214.86 L396.58,214.02 L398.40,213.18 L400.22,212.34 L402.04,211.50 L403.86,210.67 L405.68,209.83 L407.51,208.99 L409.33,208.15 L411.15,207.31 L412.97,206.47 L414.79,205.64 L416.61,204.80 L418.43,203.96 L420.25,203.12 L422.08,202.28 L423.90,201.44 L425.72,200.61 L427.54,199.77 L429.36,198.93 L431.18,198.09 L433.00,197.25 L434.83,196.41 L436.65,195.57 L438.47,194.74 L440.29,193.90 L442.11,193.06 L443.93,192.22 L445.75,191.38 L447.57,190.54 L449.40,189.70 L451.22,188.87 L453.04,188.03 L454.86,187.19 L456.68,186.35 L458.50,185.51 L460.32,184.67 L462.14,183.83 L463.97,182.99 L465.79,182.16 L467.61,181.32 L469.43,180.48 L471.25,179.64 L473.07,178.80 L474.89,177.96 L476.72,177.12 L478.54,176.28 L480.36,175.44 L482.18,174.60 L484.00,173.76 L485.82,172.92 L487.64,172.09 L489.46,171.25 L491.29,170.41 L493.11,169.57 L494.93,168.73 L496.75,167.89 L498.57,167.05 L500.39,166.21 L502.21,165.37 L504.03,164.53 L505.86,163.69 L507.68,162.85 L509.50,162.01 L511.32,161.17 L513.14,160.33 L514.96,159.49 L516.78,158.65 L518.61,157.81 L520.43,156.97 L522.25,156.13 L524.07,155.29 L525.89,154.45 L527.71,153.61 L529.53,152.77 L531.35,151.93 L533.18,151.09 L535.00,150.25 L536.82,149.41 L538.64,148.57 L540.46,147.73 L542.28,146.88 L544.10,146.04 L545.92,145.20 L547.75,144.36 L549.57,143.52 L551.39,142.68 L553.21,141.84 L555.03,141.00 L556.85,140.16 L558.67,139.31 L560.50,138.47 L562.32,137.63 L564.14,136.79 L565.96,135.95 L567.78,135.11 L569.60,134.27 L571.42,133.42 L573.24,132.58 L575.07,131.74 L576.89,130.90 L578.71,130.06 L580.53,129.21 L582.35,128.37 L584.17,127.53 L585.99,126.69 L587.81,125.85 L589.64,125.00 L591.46,124.16 L593.28,123.32 L595.10,122.48" stroke="#7a2496" stroke-width="1.05" stroke-dasharray="8.743 2.514 1.707 2.514 1.707 2.514 1.707 2.514" stroke-dashoffset="0.07999999999999999"/><path d="M41.10,389.40 L41.32,389.33 L41.32,389.32 L41.32,389.32 L41.33,389.31 L41.33,389.30 L41.33,389.30 L41.33,389.29 L41.34,389.28 L41.34,389.27 L41.35,389.26 L41.35,389.25 L41.36,389.24 L41.37,389.22 L41.37,389.21 L41.38,389.19 L41.39,389.18 L41.40,389.16 L41.41,389.14 L41.42,389.12 L41.44,389.10 L41.45,389.07 L41.47,389.05 L41.49,389.02 L41.51,388.99 L41.53,388.95 L41.56,388.92 L41.59,388.88 L41.62,388.84 L41.65,388.79 L41.69,388.75 L41.74,388.69 L41.78,388.64 L41.84,388.58 L41.90,388.51 L41.96,388.44 L42.04,388.36 L42.12,388.28 L42.21,388.19 L42.31,388.09 L42.42,387.99 L42.55,387.87 L42.69,387.75 L42.84,387.62 L43.01,387.47 L43.20,387.31 L43.41,387.14 L43.65,386.96 L43.91,386.76 L44.20,386.54 L44.52,386.30 L44.88,386.04 L45.27,385.76 L45.72,385.46 L46.21,385.12 L46.75,384.76 L47.36,384.37 L48.03,383.94 L48.78,383.47 L49.61,382.96 L50.53,382.40 L52.35,381.32 L54.17,380.26 L55.99,379.22 L57.82,378.20 L59.64,377.19 L61.46,376.19 L63.28,375.21 L65.10,374.23 L66.92,373.27 L68.74,372.31 L70.56,371.35 L72.39,370.40 L74.21,369.46 L76.03,368.52 L77.85,367.58 L79.67,366.65 L81.49,365.71 L83.31,364.79 L85.13,363.86 L86.96,362.94 L88.78,362.01 L90.60,361.09 L92.42,360.17 L94.24,359.26 L96.06,358.34 L97.88,357.42 L99.71,356.51 L101.53,355.59 L103.35,354.68 L105.17,353.76 L106.99,352.85 L108.81,351.94 L110.63,351.03 L112.45,350.11 L114.28,349.20 L116.10,348.29 L117.92,347.38 L119.74,346.46 L121.56,345.55 L123.38,344.64 L125.20,343.72 L127.02,342.81 L128.85,341.90 L130.67,340.98 L132.49,340.07 L134.31,339.15 L136.13,338.24 L137.95,337.32 L139.77,336.40 L141.60,335.49 L143.42,334.57 L145.24,333.65 L147.06,332.73 L148.88,331.81 L150.70,330.89 L152.52,329.97 L154.34,329.05 L156.17,328.13 L157.99,327.20 L159.81,326.28 L161.63,325.36 L163.45,324.43 L165.27,323.50 L167.09,322.58 L168.91,321.65 L170.74,320.72 L172.56,319.79 L174.38,318.86 L176.20,317.93 L178.02,317.00 L179.84,316.07 L181.66,315.13 L183.49,314.20 L185.31,313.26 L187.13,312.33 L188.95,311.39 L190.77,310.45 L192.59,309.51 L194.41,308.57 L196.23,307.63 L198.06,306.69 L199.88,305.74 L201.70,304.80 L203.52,303.85 L205.34,302.91 L207.16,301.96 L208.98,301.01 L210.80,300.06 L212.63,299.12 L214.45,298.16 L216.27,297.21 L218.09,296.26 L219.91,295.31 L221.73,294.35 L223.55,293.39 L225.38,292.44 L227.20,291.48 L229.02,290.52 L230.84,289.56 L232.66,288.60 L234.48,287.64 L236.30,286.67 L238.12,285.71 L239.95,284.75 L241.77,283.78 L243.59,282.81 L245.41,281.84 L247.23,280.87 L249.05,279.90 L250.87,278.93 L252.69,277.96 L254.52,276.99 L256.34,276.01 L258.16,275.04 L259.98,274.06 L261.80,273.08 L263.62,272.10 L265.44,271.12 L267.27,270.14 L269.09,269.16 L270.91,268.18 L272.73,267.19 L274.55,266.21 L276.37,265.22 L278.19,264.23 L280.01,263.25 L281.84,262.26 L283.66,261.27 L285.48,260.27 L287.30,259.28 L289.12,258.29 L290.94,257.29 L292.76,256.30 L294.58,255.30 L296.41,254.30 L298.23,253.30 L300.05,252.30 L301.87,251.30 L303.69,250.30 L305.51,249.30 L307.33,248.29 L309.16,247.29 L310.98,246.28 L312.80,245.27 L314.62,244.26 L316.44,243.25 L318.26,242.24 L320.08,241.23 L321.90,240.22 L323.73,239.21 L325.55,238.19 L327.37,237.17 L329.19,236.16 L331.01,235.14 L332.83,234.12 L334.65,233.10 L336.47,232.08 L338.30,231.05 L340.12,230.03 L341.94,229.01 L343.76,227.98 L345.58,226.95 L347.40,225.93 L349.22,224.90 L351.05,223.87 L352.87,222.84 L354.69,221.80 L356.51,220.77 L358.33,219.74 L360.15,218.70 L361.97,217.66 L363.79,216.63 L365.62,215.59 L367.44,214.55 L369.26,213.51 L371.08,212.46 L372.90,211.42 L374.72,210.38 L376.54,209.33 L378.36,208.29 L380.19,207.24 L382.01,206.19 L383.83,205.14 L385.65,204.09 L387.47,203.04 L389.29,201.99 L391.11,200.93 L392.94,199.88 L394.76,198.82 L396.58,197.77 L398.40,196.71 L400.22,195.65 L402.04,194.59 L403.86,193.53 L405.68,192.47 L407.51,191.41 L409.33,190.34 L411.15,189.28 L412.97,188.21 L414.79,187.14 L416.61,186.07 L418.43,185.01 L420.25,183.93 L422.08,182.86 L423.90,181.79 L425.72,180.72 L427.54,179.64 L429.36,178.57 L431.18,177.49 L433.00,176.41 L434.83,175.33 L436.65,174.25 L438.47,173.17 L440.29,172.09 L442.11,171.01 L443.93,169.92 L445.75,168.84 L447.57,167.75 L449.40,166.67 L451.22,165.58 L453.04,164.49 L454.86,163.40 L456.68,162.31 L458.50,161.21 L460.32,160.12 L462.14,159.03 L463.97,157.93 L465.79,156.83 L467.61,155.74 L469.43,154.64 L471.25,153.54 L473.07,152.44 L474.89,151.34 L476.72,150.23 L478.54,149.13 L480.36,148.02 L482.18,146.92 L484.00,145.81 L485.82,144.70 L487.64,143.59 L489.46,142.48 L491.29,141.37 L493.11,140.26 L494.93,139.15 L496.75,138.03 L498.57,136.92 L500.39,135.80 L502.21,134.69 L504.03,133.57 L505.86,132.45 L507.68,131.33 L509.50,130.21 L511.32,129.08 L513.14,127.96 L514.96,126.84 L516.78,125.71 L518.61,124.59 L520.43,123.46 L522.25,122.33 L524.07,121.20 L525.89,120.07 L527.71,118.94 L529.53,117.81 L531.35,116.67 L533.18,115.54 L535.00,114.40 L536.82,113.27 L538.64,112.13 L540.46,110.99 L542.28,109.85 L544.10,108.71 L545.92,107.57 L547.75,106.42 L549.57,105.28 L551.39,104.14 L553.21,102.99 L555.03,101.84 L556.85,100.70 L558.67,99.55 L560.50,98.40 L562.32,97.25 L564.14,96.10 L565.96,94.94 L567.78,93.79 L569.60,92.63 L571.42,91.48 L573.24,90.32 L575.07,89.16 L576.89,88.01 L578.71,86.85 L580.53,85.68 L582.35,84.52 L584.17,83.36 L585.99,82.20 L587.81,81.03 L589.64,79.87 L591.46,78.70 L593.28,77.53 L595.10,76.36" stroke="#3093ff" stroke-width="1.05" stroke-dasharray="11.557 5.329" stroke-dashoffset="-0.37"/><path d="M41.10,389.40 L41.32,388.89 L41.32,388.87 L41.32,388.85 L41.33,388.82 L41.33,388.80 L41.33,388.77 L41.33,388.74 L41.34,388.71 L41.34,388.68 L41.35,388.65 L41.35,388.61 L41.36,388.58 L41.37,388.54 L41.37,388.50 L41.38,388.46 L41.39,388.42 L41.40,388.38 L41.41,388.33 L41.42,388.29 L41.44,388.24 L41.45,388.18 L41.47,388.13 L41.49,388.07 L41.51,388.01 L41.53,387.95 L41.56,387.89 L41.59,387.82 L41.62,387.75 L41.65,387.68 L41.69,387.61 L41.74,387.53 L41.78,387.44 L41.84,387.36 L41.90,387.27 L41.96,387.18 L42.04,387.08 L42.12,386.98 L42.21,386.88 L42.31,386.77 L42.42,386.65 L42.55,386.53 L42.69,386.41 L42.84,386.28 L43.01,386.15 L43.20,386.00 L43.41,385.86 L43.65,385.70 L43.91,385.54 L44.20,385.37 L44.52,385.19 L44.88,385.01 L45.27,384.80 L45.72,384.58 L46.21,384.33 L46.75,384.05 L47.36,383.75 L48.03,383.42 L48.78,383.05 L49.61,382.64 L50.53,382.20 L52.35,381.32 L54.17,380.45 L55.99,379.59 L57.82,378.74 L59.64,377.89 L61.46,377.04 L63.28,376.19 L65.10,375.35 L66.92,374.51 L68.74,373.67 L70.56,372.82 L72.39,371.98 L74.21,371.14 L76.03,370.30 L77.85,369.45 L79.67,368.60 L81.49,367.76 L83.31,366.91 L85.13,366.06 L86.96,365.20 L88.78,364.35 L90.60,363.49 L92.42,362.63 L94.24,361.76 L96.06,360.90 L97.88,360.03 L99.71,359.16 L101.53,358.29 L103.35,357.41 L105.17,356.54 L106.99,355.65 L108.81,354.77 L110.63,353.88 L112.45,353.00 L114.28,352.10 L116.10,351.21 L117.92,350.31 L119.74,349.41 L121.56,348.51 L123.38,347.60 L125.20,346.69 L127.02,345.78 L128.85,344.87 L130.67,343.95 L132.49,343.03 L134.31,342.11 L136.13,341.18 L137.95,340.25 L139.77,339.32 L141.60,338.39 L143.42,337.45 L145.24,336.51 L147.06,335.57 L148.88,334.62 L150.70,333.67 L152.52,332.72 L154.34,331.76 L156.17,330.81 L157.99,329.85 L159.81,328.88 L161.63,327.92 L163.45,326.95 L165.27,325.97 L167.09,325.00 L168.91,324.02 L170.74,323.04 L172.56,322.06 L174.38,321.07 L176.20,320.08 L178.02,319.09 L179.84,318.09 L181.66,317.10 L183.49,316.10 L185.31,315.09 L187.13,314.09 L188.95,313.08 L190.77,312.07 L192.59,311.05 L194.41,310.03 L196.23,309.01 L198.06,307.99 L199.88,306.96 L201.70,305.93 L203.52,304.90 L205.34,303.87 L207.16,302.83 L208.98,301.79 L210.80,300.75 L212.63,299.70 L214.45,298.66 L216.27,297.60 L218.09,296.55 L219.91,295.49 L221.73,294.43 L223.55,293.37 L225.38,292.31 L227.20,291.24 L229.02,290.17 L230.84,289.10 L232.66,288.02 L234.48,286.94 L236.30,285.86 L238.12,284.78 L239.95,283.69 L241.77,282.60 L243.59,281.51 L245.41,280.42 L247.23,279.32 L249.05,278.22 L250.87,277.12 L252.69,276.01 L254.52,274.90 L256.34,273.79 L258.16,272.68 L259.98,271.56 L261.80,270.45 L263.62,269.33 L265.44,268.20 L267.27,267.08 L269.09,265.95 L270.91,264.81 L272.73,263.68 L274.55,262.54 L276.37,261.40 L278.19,260.26 L280.01,259.12 L281.84,257.97 L283.66,256.82 L285.48,255.67 L287.30,254.51 L289.12,253.35 L290.94,252.19 L292.76,251.03 L294.58,249.86 L296.41,248.70 L298.23,247.53 L300.05,246.35 L301.87,245.18 L303.69,244.00 L305.51,242.82 L307.33,241.63 L309.16,240.45 L310.98,239.26 L312.80,238.07 L314.62,236.87 L316.44,235.68 L318.26,234.48 L320.08,233.28 L321.90,232.07 L323.73,230.87 L325.55,229.66 L327.37,228.45 L329.19,227.23 L331.01,226.02 L332.83,224.80 L334.65,223.57 L336.47,222.35 L338.30,221.12 L340.12,219.90 L341.94,218.66 L343.76,217.43 L345.58,216.19 L347.40,214.95 L349.22,213.71 L351.05,212.47 L352.87,211.22 L354.69,209.97 L356.51,208.72 L358.33,207.47 L360.15,206.21 L361.97,204.95 L363.79,203.69 L365.62,202.43 L367.44,201.16 L369.26,199.89 L371.08,198.62 L372.90,197.35 L374.72,196.07 L376.54,194.80 L378.36,193.51 L380.19,192.23 L382.01,190.95 L383.83,189.66 L385.65,188.37 L387.47,187.07 L389.29,185.78 L391.11,184.48 L392.94,183.18 L394.76,181.88 L396.58,180.57 L398.40,179.27 L400.22,177.96 L402.04,176.64 L403.86,175.33 L405.68,174.01 L407.51,172.69 L409.33,171.37 L411.15,170.05 L412.97,168.72 L414.79,167.39 L416.61,166.06 L418.43,164.73 L420.25,163.39 L422.08,162.05 L423.90,160.71 L425.72,159.37 L427.54,158.02 L429.36,156.67 L431.18,155.32 L433.00,153.97 L434.83,152.62 L436.65,151.26 L438.47,149.90 L440.29,148.54 L442.11,147.17 L443.93,145.81 L445.75,144.44 L447.57,143.07 L449.40,141.69 L451.22,140.32 L453.04,138.94 L454.86,137.56 L456.68,136.17 L458.50,134.79 L460.32,133.40 L462.14,132.01 L463.97,130.62 L465.79,129.22 L467.61,127.83 L469.43,126.43 L471.25,125.03 L473.07,123.62 L474.89,122.22 L476.72,120.81 L478.54,119.40 L480.36,117.98 L482.18,116.57 L484.00,115.15 L485.82,113.73 L487.64,112.31 L489.46,110.88 L491.29,109.46 L493.11,108.03 L494.93,106.60 L496.75,105.16 L498.57,103.73 L500.39,102.29 L502.21,100.85 L504.03,99.40 L505.86,97.96 L507.68,96.51 L509.50,95.06 L511.32,93.61 L513.14,92.16 L514.96,90.70 L516.78,89.24 L518.61,87.78 L520.43,86.32 L522.25,84.85 L524.07,83.38 L525.89,81.91 L527.71,80.44 L529.53,78.97 L531.35,77.49 L533.18,76.01 L535.00,74.53 L536.82,73.05 L538.64,71.56 L540.46,70.07 L542.28,68.58 L544.10,67.09 L545.92,65.59 L547.75,64.10 L549.57,62.60 L551.39,61.10 L553.21,59.59 L555.03,58.09 L556.85,56.58 L558.67,55.07 L560.50,53.56 L562.32,52.04 L564.14,50.52 L565.96,49.01 L567.78,47.48 L569.60,45.96 L571.42,44.43 L573.24,42.91 L575.07,41.38 L576.89,39.84 L578.71,38.31 L580.53,36.77 L582.35,35.23 L584.17,33.69 L585.99,32.15 L587.81,30.60 L589.64,29.06 L591.46,27.51 L593.28,25.95 L595.10,24.40" stroke="#1eff50" stroke-width="1.05"/></g><path d="M84.9,31.00 L116.9,31.00" stroke="#2a18ff" stroke-width="1.05" fill="none"/><path d="M135.92,24.20 L134.96,24.68 L134.00,25.66 L133.52,26.63 L133.04,28.09 L133.04,29.54 L133.52,30.51 L134.48,31.00 L135.44,31.00 L136.40,30.51 L137.84,29.06 L138.80,27.60 L139.76,25.66 L140.24,24.20 M135.92,24.20 L136.88,24.20 L137.36,24.68 L137.84,25.66 L138.80,29.54 L139.28,30.51 L139.76,31.00 L140.24,31.00 M144.56,25.55 L152.72,25.55 M144.56,28.28 L152.72,28.28 M159.44,21.47 L158.00,21.92 L157.04,23.28 L156.56,25.55 L156.56,26.91 L157.04,29.18 L158.00,30.55 L159.44,31.00 L160.40,31.00 L161.84,30.55 L162.80,29.18 L163.28,26.91 L163.28,25.55 L162.80,23.28 L161.84,21.92 L160.40,21.47 L159.44,21.47 M167.12,30.09 L166.64,30.55 L167.12,31.00 L167.60,30.55 L167.12,30.09 M175.76,21.47 L170.96,27.82 L178.16,27.82 M175.76,21.47 L175.76,31.00" class="t"/><path d="M84.9,55.75 L115.0,55.75" stroke="#22eed6" stroke-width="1.05" fill="none" stroke-dasharray="1.9 2.04" stroke-dashoffset="-0.05"/><path d="M135.92,48.95 L134.96,49.43 L134.00,50.41 L133.52,51.38 L133.04,52.84 L133.04,54.29 L133.52,55.26 L134.48,55.75 L135.44,55.75 L136.40,55.26 L137.84,53.81 L138.80,52.35 L139.76,50.41 L140.24,48.95 M135.92,48.95 L136.88,48.95 L137.36,49.43 L137.84,50.41 L138.80,54.29 L139.28,55.26 L139.76,55.75 L140.24,55.75 M144.56,50.30 L152.72,50.30 M144.56,53.03 L152.72,53.03 M159.44,46.22 L158.00,46.67 L157.04,48.03 L156.56,50.30 L156.56,51.66 L157.04,53.93 L158.00,55.30 L159.44,55.75 L160.40,55.75 L161.84,55.30 L162.80,53.93 L163.28,51.66 L163.28,50.30 L162.80,48.03 L161.84,46.67 L160.40,46.22 L159.44,46.22 M167.12,54.84 L166.64,55.30 L167.12,55.75 L167.60,55.30 L167.12,54.84 M173.36,46.22 L171.92,46.67 L171.44,47.58 L171.44,48.49 L171.92,49.39 L172.88,49.85 L174.80,50.30 L176.24,50.76 L177.20,51.66 L177.68,52.57 L177.68,53.93 L177.20,54.84 L176.72,55.30 L175.28,55.75 L173.36,55.75 L171.92,55.30 L171.44,54.84 L170.96,53.93 L170.96,52.57 L171.44,51.66 L172.40,50.76 L173.84,50.30 L175.76,49.85 L176.72,49.39 L177.20,48.49 L177.20,47.58 L176.72,46.67 L175.28,46.22 L173.36,46.22" class="t"/><path d="M84.9,80.50 L116.9,80.50" stroke="#7ff20a" stroke-width="1.05" fill="none" stroke-dasharray="5.95 5.45" stroke-dashoffset="0.1"/><path d="M135.92,73.70 L134.96,74.18 L134.00,75.16 L133.52,76.13 L133.04,77.59 L133.04,79.04 L133.52,80.01 L134.48,80.50 L135.44,80.50 L136.40,80.01 L137.84,78.56 L138.80,77.10 L139.76,75.16 L140.24,73.70 M135.92,73.70 L136.88,73.70 L137.36,74.18 L137.84,75.16 L138.80,79.04 L139.28,80.01 L139.76,80.50 L140.24,80.50 M144.56,75.05 L152.72,75.05 M144.56,77.78 L152.72,77.78 M158.00,72.78 L158.96,72.33 L160.40,70.97 L160.40,80.50 M167.12,79.59 L166.64,80.05 L167.12,80.50 L167.60,80.05 L167.12,79.59 M171.44,73.24 L171.44,72.78 L171.92,71.87 L172.40,71.42 L173.36,70.97 L175.28,70.97 L176.24,71.42 L176.72,71.87 L177.20,72.78 L177.20,73.69 L176.72,74.60 L175.76,75.96 L170.96,80.50 L177.68,80.50" class="t"/><path d="M84.9,105.25 L116.9,105.25" stroke="#ff5a14" stroke-width="1.05" fill="none" stroke-dasharray="6.1 2.8 1.3 2.8" stroke-dashoffset="0.05"/><path d="M135.92,98.45 L134.96,98.93 L134.00,99.91 L133.52,100.88 L133.04,102.34 L133.04,103.79 L133.52,104.76 L134.48,105.25 L135.44,105.25 L136.40,104.76 L137.84,103.31 L138.80,101.85 L139.76,99.91 L140.24,98.45 M135.92,98.45 L136.88,98.45 L137.36,98.93 L137.84,99.91 L138.80,103.79 L139.28,104.76 L139.76,105.25 L140.24,105.25 M144.56,99.80 L152.72,99.80 M144.56,102.53 L152.72,102.53 M158.00,97.53 L158.96,97.08 L160.40,95.72 L160.40,105.25 M167.12,104.34 L166.64,104.80 L167.12,105.25 L167.60,104.80 L167.12,104.34 M177.20,97.08 L176.72,96.17 L175.28,95.72 L174.32,95.72 L172.88,96.17 L171.92,97.53 L171.44,99.80 L171.44,102.07 L171.92,103.89 L172.88,104.80 L174.32,105.25 L174.80,105.25 L176.24,104.80 L177.20,103.89 L177.68,102.53 L177.68,102.07 L177.20,100.71 L176.24,99.80 L174.80,99.35 L174.32,99.35 L172.88,99.80 L171.92,100.71 L171.44,102.07" class="t"/><path d="M84.9,130.00 L116.9,130.00" stroke="#7a2496" stroke-width="1.05" fill="none" stroke-dasharray="8.85 2.65 1.3 3.1 1.3 3.1 1.3 2.4" stroke-dashoffset="0.05"/><path d="M135.92,123.20 L134.96,123.68 L134.00,124.66 L133.52,125.63 L133.04,127.09 L133.04,128.54 L133.52,129.51 L134.48,130.00 L135.44,130.00 L136.40,129.51 L137.84,128.06 L138.80,126.60 L139.76,124.66 L140.24,123.20 M135.92,123.20 L136.88,123.20 L137.36,123.68 L137.84,124.66 L138.80,128.54 L139.28,129.51 L139.76,130.00 L140.24,130.00 M144.56,124.55 L152.72,124.55 M144.56,127.28 L152.72,127.28 M157.04,122.74 L157.04,122.28 L157.52,121.37 L158.00,120.92 L158.96,120.47 L160.88,120.47 L161.84,120.92 L162.32,121.37 L162.80,122.28 L162.80,123.19 L162.32,124.10 L161.36,125.46 L156.56,130.00 L163.28,130.00 M167.12,129.09 L166.64,129.55 L167.12,130.00 L167.60,129.55 L167.12,129.09 M173.84,120.47 L172.40,120.92 L171.44,122.28 L170.96,124.55 L170.96,125.91 L171.44,128.18 L172.40,129.55 L173.84,130.00 L174.80,130.00 L176.24,129.55 L177.20,128.18 L177.68,125.91 L177.68,124.55 L177.20,122.28 L176.24,120.92 L174.80,120.47 L173.84,120.47" class="t"/><path d="M84.9,154.75 L116.9,154.75" stroke="#3093ff" stroke-width="1.05" fill="none" stroke-dasharray="11.75 5.25" stroke-dashoffset="0.1"/><path d="M135.92,147.95 L134.96,148.43 L134.00,149.41 L133.52,150.38 L133.04,151.84 L133.04,153.29 L133.52,154.26 L134.48,154.75 L135.44,154.75 L136.40,154.26 L137.84,152.81 L138.80,151.35 L139.76,149.41 L140.24,147.95 M135.92,147.95 L136.88,147.95 L137.36,148.43 L137.84,149.41 L138.80,153.29 L139.28,154.26 L139.76,154.75 L140.24,154.75 M144.56,149.30 L152.72,149.30 M144.56,152.03 L152.72,152.03 M157.04,147.49 L157.04,147.03 L157.52,146.12 L158.00,145.67 L158.96,145.22 L160.88,145.22 L161.84,145.67 L162.32,146.12 L162.80,147.03 L162.80,147.94 L162.32,148.85 L161.36,150.21 L156.56,154.75 L163.28,154.75 M167.12,153.84 L166.64,154.30 L167.12,154.75 L167.60,154.30 L167.12,153.84 M175.76,145.22 L170.96,151.57 L178.16,151.57 M175.76,145.22 L175.76,154.75" class="t"/><path d="M84.9,179.50 L116.9,179.50" stroke="#1eff50" stroke-width="1.05" fill="none"/><path d="M135.92,172.70 L134.96,173.18 L134.00,174.16 L133.52,175.13 L133.04,176.59 L133.04,178.04 L133.52,179.01 L134.48,179.50 L135.44,179.50 L136.40,179.01 L137.84,177.56 L138.80,176.10 L139.76,174.16 L140.24,172.70 M135.92,172.70 L136.88,172.70 L137.36,173.18 L137.84,174.16 L138.80,178.04 L139.28,179.01 L139.76,179.50 L140.24,179.50 M144.56,174.05 L152.72,174.05 M144.56,176.78 L152.72,176.78 M157.04,172.24 L157.04,171.78 L157.52,170.87 L158.00,170.42 L158.96,169.97 L160.88,169.97 L161.84,170.42 L162.32,170.87 L162.80,171.78 L162.80,172.69 L162.32,173.60 L161.36,174.96 L156.56,179.50 L163.28,179.50 M167.12,178.59 L166.64,179.05 L167.12,179.50 L167.60,179.05 L167.12,178.59 M173.36,169.97 L171.92,170.42 L171.44,171.33 L171.44,172.24 L171.92,173.14 L172.88,173.60 L174.80,174.05 L176.24,174.51 L177.20,175.41 L177.68,176.32 L177.68,177.68 L177.20,178.59 L176.72,179.05 L175.28,179.50 L173.36,179.50 L171.92,179.05 L171.44,178.59 L170.96,177.68 L170.96,176.32 L171.44,175.41 L172.40,174.51 L173.84,174.05 L175.76,173.60 L176.72,173.14 L177.20,172.24 L177.20,171.33 L176.72,170.42 L175.28,169.97 L173.36,169.97" class="t"/><path d="M39.91,401.31 L38.44,401.80 L37.46,403.27 L36.97,405.72 L36.97,407.19 L37.46,409.64 L38.44,411.11 L39.91,411.60 L40.89,411.60 L42.36,411.11 L43.34,409.64 L43.83,407.19 L43.83,405.72 L43.34,403.27 L42.36,401.80 L40.89,401.31 L39.91,401.31 M223.14,403.27 L224.12,402.78 L225.59,401.31 L225.59,411.60 M406.86,403.76 L406.86,403.27 L407.35,402.29 L407.84,401.80 L408.82,401.31 L410.78,401.31 L411.76,401.80 L412.25,402.29 L412.74,403.27 L412.74,404.25 L412.25,405.23 L411.27,406.70 L406.37,411.60 L413.23,411.60 M592.45,401.31 L597.84,401.31 L594.90,405.23 L596.37,405.23 L597.35,405.72 L597.84,406.21 L598.33,407.68 L598.33,408.66 L597.84,410.13 L596.86,411.11 L595.39,411.60 L593.92,411.60 L592.45,411.11 L591.96,410.62 L591.47,409.64 M28.02,290.20 L28.02,289.73 L28.50,288.78 L28.98,288.30 L29.94,287.82 L31.86,287.82 L32.82,288.30 L33.30,288.78 L33.78,289.73 L33.78,290.68 L33.30,291.62 L32.34,293.05 L27.54,297.80 L34.26,297.80 M28.50,190.53 L33.78,190.53 L30.90,194.33 L32.34,194.33 L33.30,194.80 L33.78,195.28 L34.26,196.70 L34.26,197.65 L33.78,199.08 L32.82,200.03 L31.38,200.50 L29.94,200.50 L28.50,200.03 L28.02,199.55 L27.54,198.60 M32.34,93.23 L27.54,99.88 L34.74,99.88 M32.34,93.23 L32.34,103.20 M28.98,380.93 L29.94,380.45 L31.38,379.02 L31.38,389.00 M33.30,0.01 L28.50,0.01 L28.02,4.31 L28.50,3.84 L29.94,3.36 L31.38,3.36 L32.82,3.84 L33.78,4.79 L34.26,6.23 L34.26,7.18 L33.78,8.62 L32.82,9.57 L31.38,10.05 L29.94,10.05 L28.50,9.57 L28.02,9.09 L27.54,8.14 M320.20,420.67 L320.20,430.20 M320.20,425.21 L319.24,424.30 L318.28,423.84 L316.84,423.84 L315.88,424.30 L314.92,425.21 L314.44,426.57 L314.44,427.48 L314.92,428.84 L315.88,429.75 L316.84,430.20 L318.28,430.20 L319.24,429.75 L320.20,428.84 M5.51,218.36 L5.51,223.16 L6.00,224.12 L6.99,225.08 L8.46,225.56 L9.94,225.56 L11.42,225.08 L11.91,224.60 L12.40,223.64 L12.40,222.68 L11.91,221.72 L10.92,220.76 L9.45,220.28 L7.97,220.28 L6.49,220.76 L6.00,221.24 L5.51,222.20 M0.16,207.30 L16.36,215.94 M5.51,197.76 L5.51,202.56 L6.00,203.52 L6.99,204.48 L8.46,204.96 L9.94,204.96 L11.42,204.48 L11.91,204.00 L12.40,203.04 L12.40,202.08 L11.91,201.12 L10.92,200.16 L9.45,199.68 L7.97,199.68 L6.49,200.16 L6.00,200.64 L5.51,201.60 M0.16,191.22 L1.18,192.01 L2.69,192.79 L4.72,193.58 L7.25,193.98 L9.27,193.98 L11.80,193.58 L13.83,192.79 L15.34,192.01 L16.36,191.22 M2.74,186.70 L10.56,186.70 L11.94,186.22 L12.40,185.26 L12.40,184.30 M5.96,188.14 L5.96,184.78 M10.31,181.91 L15.16,181.91 L16.01,181.61 L16.30,181.02 L16.30,180.42 M12.31,182.80 L12.31,180.72 M12.31,177.37 L12.59,177.96 L13.16,178.56 L14.02,178.86 L14.59,178.86 L15.44,178.56 L16.01,177.96 L16.30,177.37 L16.30,176.48 L16.01,175.88 L15.44,175.29 L14.59,174.99 L14.02,174.99 L13.16,175.29 L12.59,175.88 L12.31,176.48 L12.31,177.37 M10.31,172.06 L15.16,172.06 L16.01,171.76 L16.30,171.17 L16.30,170.57 M12.31,172.95 L12.31,170.87 M0.16,167.96 L1.18,167.17 L2.69,166.39 L4.72,165.60 L7.25,165.20 L9.27,165.20 L11.80,165.60 L13.83,166.39 L15.34,167.17 L16.36,167.96" class="t"/></svg></body></html>
